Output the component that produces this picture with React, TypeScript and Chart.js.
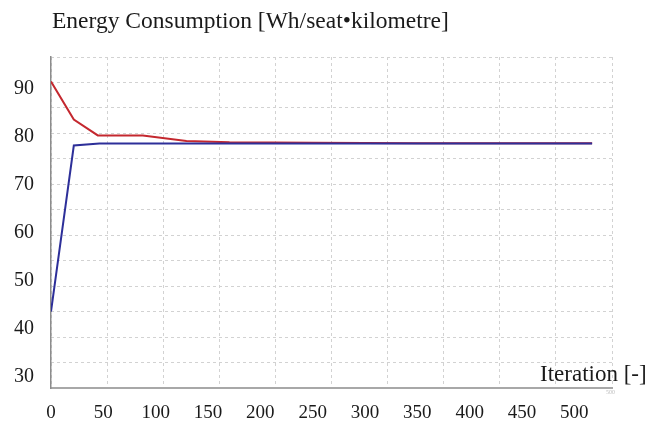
import React, { useEffect, useRef } from "react";
import { Chart, registerables } from "chart.js";

Chart.register(...registerables);

const titleText = "Energy Consumption [Wh/seat•kilometre]";
const xAxisTitle = "Iteration [-]";

const xTickValues = [0, 50, 100, 150, 200, 250, 300, 350, 400, 450, 500];
const yTickValues = [30, 40, 50, 60, 70, 80, 90];

const blueIterations = [0, 21.8, 46.3, 100, 517];
const blueEnergy = [43.6, 78.1, 78.5, 78.5, 78.5];

const redIterations = [0, 21.8, 44.7, 87.7, 129.4, 170.5, 250, 350, 517];
const redEnergy = [91.4, 83.5, 80.2, 80.2, 79.05, 78.8, 78.7, 78.6, 78.6];

const SERIF = "'Liberation Serif', 'Times New Roman', serif";

export default function App() {
  const canvasRef = useRef<HTMLCanvasElement | null>(null);

  useEffect(() => {
    const canvas = canvasRef.current;
    if (!canvas) return;
    const chart = new Chart(canvas, {
      type: "line",
      data: {
        datasets: [
          {
            label: "blue",
            data: blueIterations.map((x, i) => ({ x, y: blueEnergy[i] })),
            borderColor: "#2d2f99",
            borderWidth: 2,
            pointRadius: 0,
            tension: 0,
            xAxisID: "x",
            yAxisID: "y",
          },
          {
            label: "red",
            data: redIterations.map((x, i) => ({ x, y: redEnergy[i] })),
            borderColor: "#c4282f",
            borderWidth: 2,
            pointRadius: 0,
            tension: 0,
            xAxisID: "x",
            yAxisID: "y",
          },
        ],
      },
      options: {
        animation: false,
        responsive: false,
        layout: { padding: { left: 0, right: 37, top: 57, bottom: 0 } },
        plugins: {
          legend: { display: false },
          tooltip: { enabled: false },
          title: { display: false },
        },
        scales: {
          x: {
            type: "linear",
            position: "bottom",
            min: 0,
            max: 536,
            afterBuildTicks: (axis: any) => {
              axis.ticks = xTickValues.map((v) => ({ value: v }));
            },
            afterFit: (scale: any) => {
              scale.height = 35;
            },
            grid: { display: false, drawTicks: false },
            border: { display: true, color: "#a8a8a8", width: 2 },
            ticks: {
              color: "#1a1a1a",
              font: { family: SERIF, size: 19 },
              padding: 14,
              maxRotation: 0,
              autoSkip: false,
            },
          },
          xg: {
            type: "linear",
            position: "bottom",
            min: 0,
            max: 500,
            afterBuildTicks: (axis: any) => {
              axis.ticks = xTickValues.map((v) => ({ value: v }));
            },
            afterFit: (scale: any) => {
              scale.height = 0;
            },
            grid: { display: true, drawTicks: false, color: "#d2d2d2", lineWidth: 1 },
            border: { display: false, dash: [3, 3] },
            ticks: { display: false },
          },
          y: {
            type: "linear",
            position: "left",
            min: 27.72,
            max: 96.5,
            afterBuildTicks: (axis: any) => {
              axis.ticks = yTickValues.map((v) => ({ value: v }));
            },
            afterFit: (scale: any) => {
              scale.width = 51;
            },
            grid: { display: false, drawTicks: false },
            border: { display: true, color: "#8c8c8c", width: 1.5 },
            ticks: {
              color: "#1a1a1a",
              font: { family: SERIF, size: 20 },
              padding: 17,
              autoSkip: false,
            },
          },
          yg: {
            type: "linear",
            position: "left",
            min: 30,
            max: 95,
            afterBuildTicks: (axis: any) => {
              const t = [];
              for (let v = 30; v <= 95; v += 5) t.push({ value: v });
              axis.ticks = t;
            },
            afterFit: (scale: any) => {
              scale.width = 0;
            },
            grid: { display: true, drawTicks: false, color: "#d2d2d2", lineWidth: 1 },
            border: { display: false, dash: [3, 3] },
            ticks: { display: false },
          },
        },
      },
    } as any);
    return () => {
      chart.destroy();
    };
  }, []);

  return (
    <div style={{ position: "absolute", left: 0, top: 0, width: 649, height: 423, background: "#fff" }}>
      <canvas ref={canvasRef} width={649} height={423} style={{ display: "block" }} />
      <div
        style={{
          position: "absolute",
          left: 52,
          top: 6,
          fontFamily: SERIF,
          fontSize: 23.5,
          lineHeight: "28px",
          color: "#1a1a1a",
          whiteSpace: "nowrap",
        }}
      >
        {titleText}
      </div>
      <div
        style={{
          position: "absolute",
          left: 540,
          top: 360,
          fontFamily: SERIF,
          fontSize: 23,
          lineHeight: "28px",
          color: "#1a1a1a",
          whiteSpace: "nowrap",
        }}
      >
        {xAxisTitle}
      </div>
      <div
        style={{
          position: "absolute",
          left: 606,
          top: 388,
          fontFamily: SERIF,
          fontSize: 6,
          lineHeight: "8px",
          color: "#bdbdbd",
          whiteSpace: "nowrap",
        }}
      >
        500
      </div>
    </div>
  );
}
